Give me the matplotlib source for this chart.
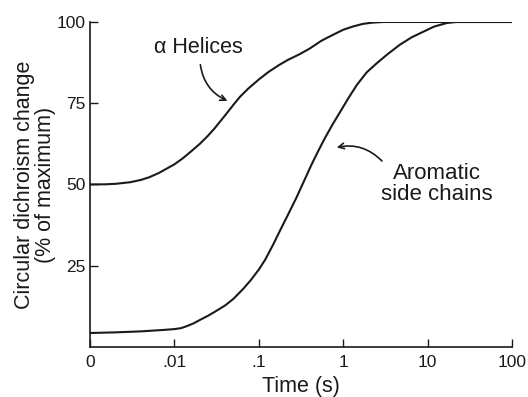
import matplotlib
matplotlib.use("Agg")
import matplotlib.pyplot as plt

plt.rcParams['font.family'] = ['Liberation Sans', 'DejaVu Sans']

# alpha helices curve (time in s, % of maximum)
helix_t = [0.001, 0.0015, 0.002, 0.003, 0.004, 0.005, 0.0065, 0.008, 0.01, 0.0125, 0.015,
           0.02, 0.025, 0.03, 0.04, 0.05, 0.06, 0.075, 0.1, 0.13, 0.17, 0.22, 0.3,
           0.4, 0.55, 0.75, 1.0, 1.3, 1.7, 2.2, 3, 100]
helix_v = [50, 50.05, 50.2, 50.7, 51.4, 52.2, 53.5, 54.8, 56.2, 58, 59.7,
           62.5, 65, 67.3, 71.3, 74.5, 77, 79.5, 82.3, 84.6, 86.6, 88.3, 90.0,
           91.8, 94.2, 96.0, 97.6, 98.6, 99.4, 99.8, 100, 100]

# aromatic side chains curve
arom_t = [0.001, 0.002, 0.004, 0.007, 0.01, 0.012, 0.014, 0.017, 0.02, 0.025, 0.03,
          0.04, 0.05, 0.065, 0.08, 0.1, 0.12, 0.15, 0.18, 0.22, 0.28, 0.35, 0.42,
          0.5, 0.6, 0.75, 0.92, 1.15, 1.45, 1.9, 2.5, 3.4, 4.7, 6.5, 8.9, 12, 17, 22, 100]
arom_v = [4.3, 4.5, 4.8, 5.2, 5.5, 5.8, 6.4, 7.3, 8.3, 9.6, 10.8,
          12.8, 14.8, 17.8, 20.5, 23.8, 27, 31.8, 36, 40.5, 46, 51.5, 56,
          60, 64, 68.5, 72.3, 76.5, 80.6, 84.5, 87.3, 90.2, 93, 95.3, 97, 98.6, 99.7, 100, 100]

x_ticks = [0.001, 0.01, 0.1, 1, 10, 100]
x_labels = ['0', '.01', '.1', '1', '10', '100']
y_ticks = [25, 50, 75, 100]

ink = '#1a1a1a'

fig = plt.figure(figsize=(5.28, 3.97), dpi=100)
ax = fig.add_axes([0.1705, 0.126, 0.799, 0.8186])

ax.plot(helix_t, helix_v, color=ink, lw=1.5)
ax.plot(arom_t, arom_v, color=ink, lw=1.5)

ax.set_xscale('log')
ax.set_xlim(0.001, 100)
ax.set_ylim(0, 100)
ax.set_xticks(x_ticks)
ax.set_xticklabels(x_labels)
ax.minorticks_off()
ax.set_yticks(y_ticks)
ax.tick_params(direction='in', length=6, width=1, labelsize=12.5, colors=ink)
ax.tick_params(axis='x', pad=6)
ax.tick_params(axis='y', pad=3)

for s in ['top', 'right']:
    ax.spines[s].set_visible(False)
for s in ['left', 'bottom']:
    ax.spines[s].set_linewidth(1.2)
    ax.spines[s].set_color(ink)

ax.set_xlabel('Time (s)', fontsize=15.5, color=ink)
ax.xaxis.set_label_coords(0.5, -0.088)
ax.set_ylabel('Circular dichroism change\n(% of maximum)', fontsize=15.5,
              color=ink, linespacing=1.0)
ax.yaxis.set_label_coords(-0.08, 0.5)

ax.text(0.019, 92, 'α Helices', fontsize=15.5, ha='center', va='center', color=ink)
ax.annotate('', xy=(0.0456, 75.4), xytext=(0.0201, 87.7),
            arrowprops=dict(arrowstyle='->', color=ink, lw=1.2,
                            connectionstyle='arc3,rad=0.3'))

ax.text(12.9, 50.2, 'Aromatic\nside chains', fontsize=16, ha='center', va='center',
        color=ink, linespacing=1.0)
ax.annotate('', xy=(0.78, 61.2), xytext=(3.04, 56.6),
            arrowprops=dict(arrowstyle='->', color=ink, lw=1.2,
                            connectionstyle='arc3,rad=0.3'))

fig.savefig('out.png', dpi=100)
